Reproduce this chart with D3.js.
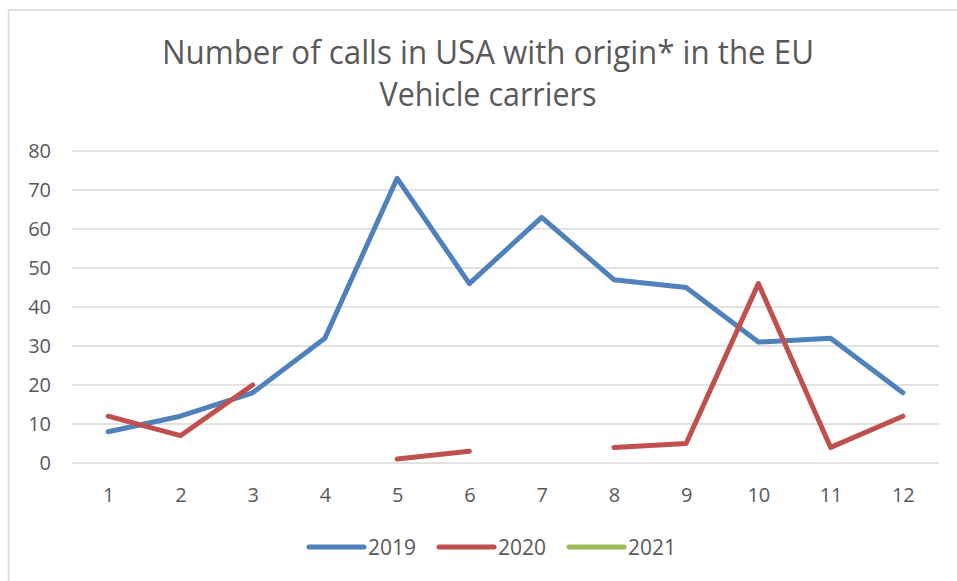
<!DOCTYPE html>
<html>
<head>
<meta charset="utf-8">
<script src="https://cdn.jsdelivr.net/npm/d3@7"></script>
<style>
  html, body { margin: 0; padding: 0; background: #fff; }
  svg { display: block; font-family: "Open Sans", "Noto Sans", sans-serif; }
</style>
</head>
<body>
<svg id="chart" width="957" height="581"></svg>
<script>
// Monthly vehicle-carrier calls in the USA originating in the EU
const months = [1, 2, 3, 4, 5, 6, 7, 8, 9, 10, 11, 12];
const calls2019 = [8, 12, 18, 32, 73, 46, 63, 47, 45, 31, 32, 18];
const calls2020 = [12, 7, 20, null, 1, 3, null, 4, 5, 46, 4, 12];
const calls2021 = [null, null, null, null, null, null, null, null, null, null, null, null];
const seriesNames = ["2019", "2020", "2021"];
const yTicks = [0, 10, 20, 30, 40, 50, 60, 70, 80];
const titleLines = ["Number of calls in USA with origin* in the EU", "Vehicle carriers"];

const colors = ["#4F81BD", "#C0504D", "#9BBB59"];
const textColor = "#595959";
const gridColor = "#D9D9D9";

const svg = d3.select("#chart");

// Chart frame
svg.append("rect")
  .attr("x", 8.5).attr("y", 10)
  .attr("width", 1000).attr("height", 1000)
  .attr("fill", "#fff")
  .attr("stroke", gridColor)
  .attr("stroke-width", 1.5);

// Title
const titleWidths = [652, 217];
const titleBaselines = [64, 106];
svg.append("g").selectAll("text")
  .data(titleLines)
  .join("text")
  .attr("x", 488)
  .attr("y", (d, i) => titleBaselines[i])
  .attr("text-anchor", "middle")
  .attr("fill", textColor)
  .attr("font-size", 32)
  .attr("textLength", (d, i) => titleWidths[i])
  .attr("lengthAdjust", "spacingAndGlyphs")
  .text(d => d);

// Scales
const x = d3.scalePoint().domain(months).range([72, 939]).padding(0.5);
const y = d3.scaleLinear().domain([0, 80]).range([463, 151]);

// Horizontal gridlines
svg.append("g").selectAll("line")
  .data(yTicks)
  .join("line")
  .attr("x1", 72).attr("x2", 939)
  .attr("y1", d => y(d)).attr("y2", d => y(d))
  .attr("stroke", gridColor)
  .attr("stroke-width", 1.5);

// Y axis labels
const yAxis = svg.append("g")
  .attr("transform", "translate(51,0)")
  .call(d3.axisLeft(y).tickValues(yTicks).tickSize(0).tickPadding(0));
yAxis.select(".domain").remove();
yAxis.selectAll("text")
  .attr("fill", textColor)
  .attr("font-size", 20)
  .attr("font-family", "\"Open Sans\", sans-serif");

// X axis labels
const xAxis = svg.append("g")
  .attr("transform", "translate(0,463)")
  .call(d3.axisBottom(x).tickSize(0).tickPadding(0));
xAxis.select(".domain").remove();
xAxis.selectAll("text")
  .attr("dy", null)
  .attr("y", 39)
  .attr("fill", textColor)
  .attr("font-size", 20)
  .attr("font-family", "\"Open Sans\", sans-serif");

// Series lines (gaps where no value)
const series = [calls2019, calls2020, calls2021];
const line = d3.line()
  .defined(d => d.v != null)
  .x(d => x(d.m))
  .y(d => y(d.v));

svg.append("g").selectAll("path")
  .data(series.map((vals, i) => ({ color: colors[i], pts: months.map((m, j) => ({ m, v: vals[j] })) })))
  .join("path")
  .attr("d", d => line(d.pts))
  .attr("fill", "none")
  .attr("stroke", d => d.color)
  .attr("stroke-width", 5)
  .attr("stroke-linecap", "round")
  .attr("stroke-linejoin", "round");

// Legend
const legendX = [309, 439, 569];
const legend = svg.append("g").selectAll("g")
  .data(seriesNames)
  .join("g")
  .attr("transform", (d, i) => `translate(${legendX[i]},547)`);
legend.append("line")
  .attr("x1", 0).attr("x2", 55)
  .attr("y1", 0).attr("y2", 0)
  .attr("stroke", (d, i) => colors[i])
  .attr("stroke-width", 5)
  .attr("stroke-linecap", "round");
legend.append("text")
  .attr("x", 59)
  .attr("y", 8)
  .attr("fill", textColor)
  .attr("font-size", 21)
  .text(d => d);
</script>
</body>
</html>
